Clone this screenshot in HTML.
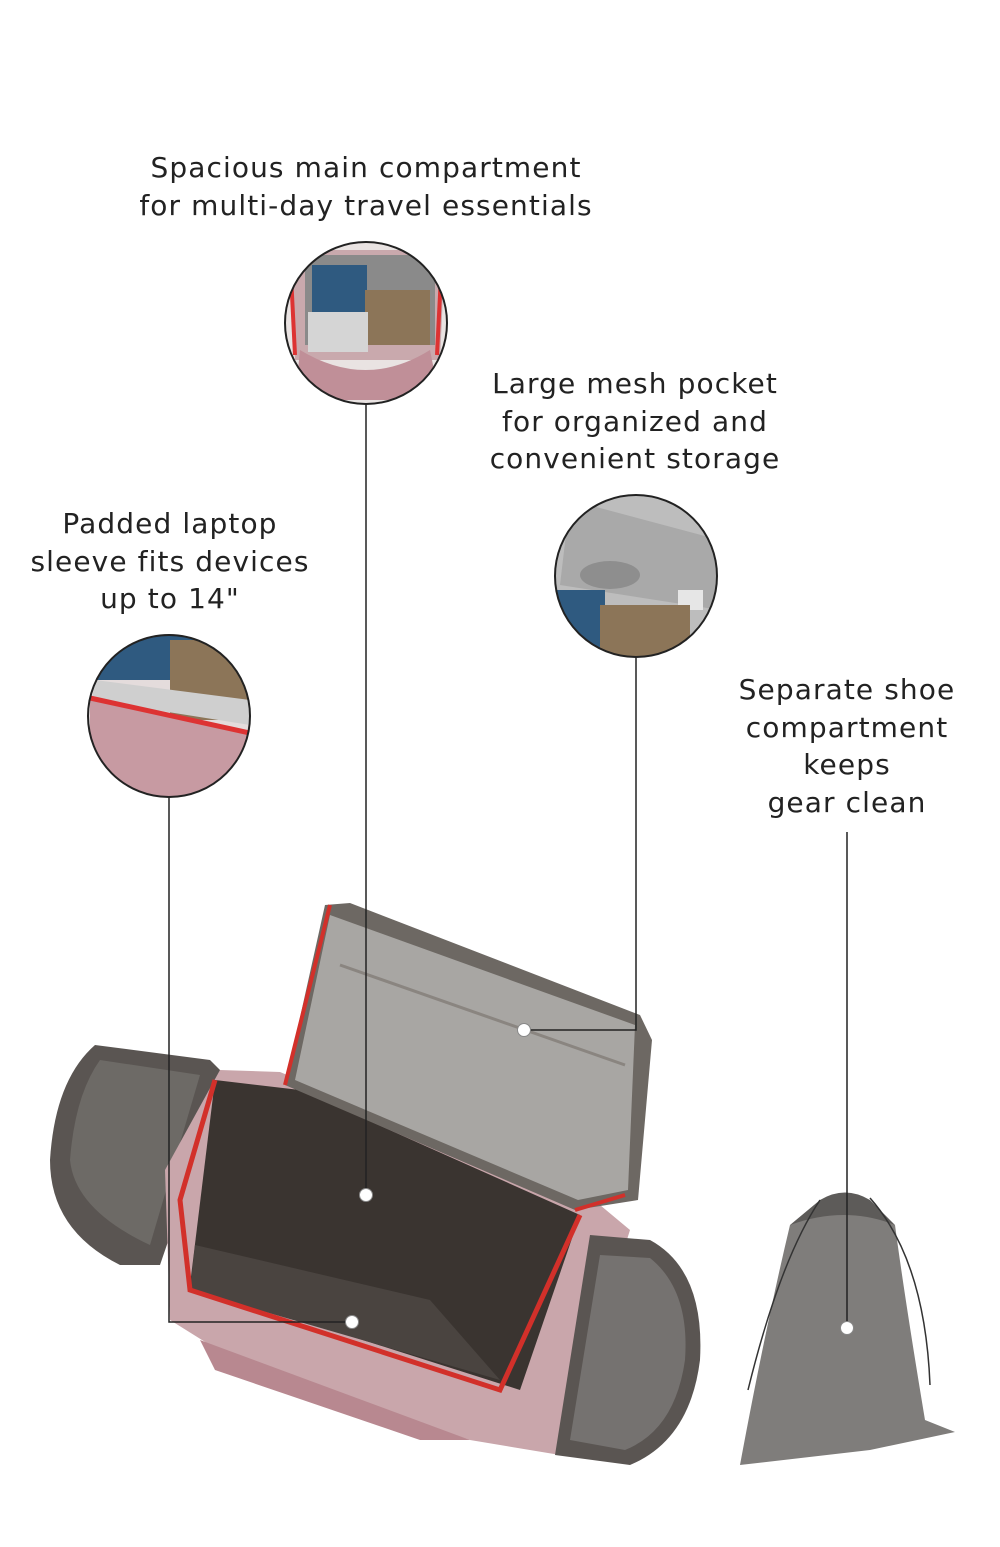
<!DOCTYPE html>
<html><head><meta charset="utf-8"><style>
html,body{margin:0;padding:0;background:#fff;}
body{width:1000px;height:1547px;position:relative;overflow:hidden;font-family:"DejaVu Sans","Liberation Sans",sans-serif;color:#222;}
.t{position:absolute;text-align:center;font-size:28px;line-height:37.5px;letter-spacing:1.1px;white-space:nowrap;}
svg{position:absolute;left:0;top:0;}
</style></head><body>
<svg width="1000" height="1547" viewBox="0 0 1000 1547">
<defs>
<clipPath id="c1"><circle cx="366" cy="323" r="81"/></clipPath>
<clipPath id="c2"><circle cx="636" cy="576" r="81"/></clipPath>
<clipPath id="c3"><circle cx="169" cy="716" r="81"/></clipPath>
</defs>
<g clip-path="url(#c1)">
<rect x="280" y="240" width="175" height="170" fill="#e9e3e2"/>
<polygon points="290,250 445,250 440,360 295,360" fill="#c9a9ad"/>
<rect x="305" y="255" width="130" height="90" fill="#8a8a8a"/>
<rect x="312" y="265" width="55" height="50" fill="#2f5a80"/>
<rect x="365" y="290" width="65" height="55" fill="#8c7558"/>
<rect x="308" y="312" width="60" height="40" fill="#d5d5d5"/>
<path d="M300,350 Q366,390 430,350 L440,400 L295,400Z" fill="#c08f98"/>
<line x1="290" y1="255" x2="295" y2="355" stroke="#d33" stroke-width="4"/>
<line x1="442" y1="255" x2="437" y2="355" stroke="#d33" stroke-width="4"/>
</g>
<circle cx="366" cy="323" r="81" fill="none" stroke="#222" stroke-width="2"/>
<g clip-path="url(#c2)">
<rect x="550" y="490" width="175" height="170" fill="#bdbdbd"/>
<polygon points="570,500 720,540 720,610 560,585" fill="#a9a9a9"/>
<ellipse cx="610" cy="575" rx="30" ry="14" fill="#8e8e8e"/>
<rect x="678" y="590" width="25" height="20" fill="#e6e6e6"/>
<rect x="550" y="590" width="55" height="70" fill="#2f5a80"/>
<rect x="600" y="605" width="90" height="60" fill="#8c7558"/>
</g>
<circle cx="636" cy="576" r="81" fill="none" stroke="#222" stroke-width="2"/>
<g clip-path="url(#c3)">
<rect x="85" y="630" width="175" height="170" fill="#e4dcdc"/>
<rect x="95" y="635" width="100" height="45" fill="#2f5a80"/>
<rect x="170" y="640" width="90" height="80" fill="#8c7558"/>
<polygon points="95,680 250,700 250,725 92,700" fill="#cfcfcf"/>
<path d="M90,700 L250,735 L245,800 L90,800Z" fill="#c79aa2"/>
<line x1="90" y1="698" x2="250" y2="733" stroke="#d33" stroke-width="5"/>
</g>
<circle cx="169" cy="716" r="81" fill="none" stroke="#222" stroke-width="2"/>
<path d="M95,1045 L210,1060 L225,1075 L160,1265 L120,1265 Q50,1230 50,1160 Q55,1080 95,1045Z" fill="#5a5552"/>
<path d="M100,1060 L200,1075 L150,1245 Q75,1210 70,1160 Q75,1095 100,1060Z" fill="#6d6a66"/>
<polygon points="220,1070 280,1072 600,1205 630,1230 560,1455 470,1440 250,1370 170,1320 165,1170" fill="#c9a6ab"/>
<polygon points="200,1340 470,1440 420,1440 215,1370" fill="#b88890"/>
<polygon points="215,1080 300,1090 580,1215 520,1390 190,1285" fill="#3a3430"/>
<polygon points="195,1245 430,1300 500,1380 190,1290" fill="#4a4440"/>
<polyline points="215,1080 180,1200 190,1290 500,1390 580,1215" fill="none" stroke="#d2302a" stroke-width="5"/>
<polygon points="325,905 350,903 640,1015 652,1040 638,1200 575,1210 285,1085" fill="#6d6863"/>
<polygon points="330,915 635,1025 628,1190 578,1200 295,1080" fill="#a8a6a3"/>
<line x1="340" y1="965" x2="625" y2="1065" stroke="#8a8580" stroke-width="3"/>
<line x1="285" y1="1085" x2="330" y2="905" stroke="#d2302a" stroke-width="4"/>
<line x1="575" y1="1210" x2="625" y2="1195" stroke="#d2302a" stroke-width="4"/>
<path d="M590,1235 L650,1240 Q705,1270 700,1360 Q690,1440 630,1465 L555,1455 Z" fill="#5a5552"/>
<path d="M600,1255 L650,1258 Q690,1290 685,1360 Q675,1430 625,1450 L570,1440Z" fill="#757270"/>
<path d="M790,1225 Q845,1190 895,1225 Q905,1300 925,1420 L955,1432 L870,1450 L740,1465 Q765,1330 790,1225Z" fill="#7f7d7b"/>
<path d="M820,1200 Q845,1185 870,1200 L895,1225 Q845,1205 790,1225Z" fill="#5d5b59"/>
<path d="M820,1200 Q780,1260 748,1390 M870,1198 Q925,1260 930,1385" fill="none" stroke="#333" stroke-width="1.5"/>
<g stroke="#222" stroke-width="1.5" fill="none">
<line x1="366" y1="405" x2="366" y2="1195"/>
<polyline points="636,658 636,1030 524,1030"/>
<polyline points="169,798 169,1322 352,1322"/>
<line x1="847" y1="832" x2="847" y2="1328"/>
</g>
<g fill="#fff" stroke="#888" stroke-width="1">
<circle cx="366" cy="1195" r="6.5"/>
<circle cx="524" cy="1030" r="6.5"/>
<circle cx="352" cy="1322" r="6.5"/>
<circle cx="847" cy="1328" r="6.5"/>
</g>
</svg>
<div class="t" style="left:66px;top:149px;width:600px;">Spacious main compartment<br>for multi-day travel essentials</div>
<div class="t" style="left:435px;top:365px;width:400px;">Large mesh pocket<br>for organized and<br>convenient storage</div>
<div class="t" style="left:0px;top:505px;width:340px;">Padded laptop<br>sleeve fits devices<br>up to 14"</div>
<div class="t" style="left:697px;top:671px;width:300px;">Separate shoe<br>compartment<br>keeps<br>gear clean</div>
</body></html>
